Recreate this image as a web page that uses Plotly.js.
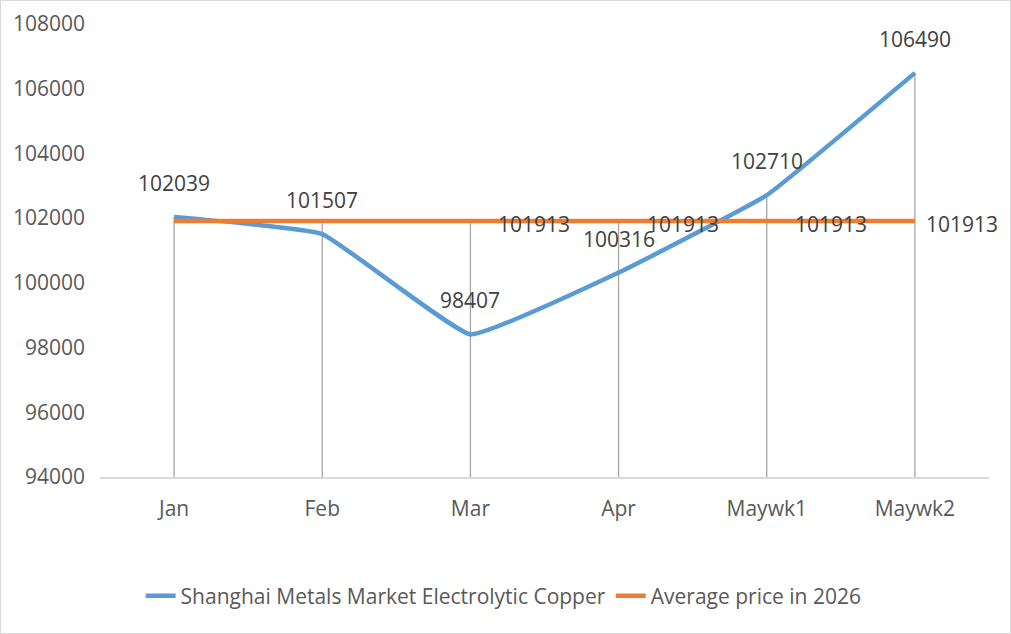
<!DOCTYPE html>
<html>
<head>
<meta charset="utf-8">
<script src="https://cdn.plot.ly/plotly-3.0.1.min.js"></script>
<style>
  html, body { margin: 0; padding: 0; background: #fff; }
  #chart { width: 1009px; height: 632px; border: 1px solid #d9d9d9; }
</style>
</head>
<body>
<div id="chart"></div>
<script>
// chart data
var months = ['Jan', 'Feb', 'Mar', 'Apr', 'Maywk1', 'Maywk2'];
var copperPrice = [102039, 101507, 98407, 100316, 102710, 106490];
var avgPrice = [101913, 101913, 101913, 101913, 101913, 101913];
var avgLabelShown = [false, false, true, true, true, true];

var yMin = 94000, yMax = 108000;
var labelFont = { family: 'Open Sans, Liberation Sans, sans-serif', size: 21, color: '#404040' };
var tickFont = { family: 'Open Sans, Liberation Sans, sans-serif', size: 21, color: '#595959' };

// drop lines from highest point down to the axis
var dropX = [], dropY = [];
months.forEach(function (m, i) {
    dropX.push(m, m, null);
    dropY.push(Math.max(copperPrice[i], avgPrice[i]), yMin, null);
});

var drops = {
    x: dropX, y: dropY,
    mode: 'lines', type: 'scatter',
    line: { color: '#a6a6a6', width: 1.3 },
    hoverinfo: 'skip', showlegend: false
};
var copper = {
    x: months, y: copperPrice,
    name: 'Shanghai Metals Market Electrolytic Copper',
    mode: 'lines', type: 'scatter',
    line: { color: '#5b9bd5', width: 4.5, shape: 'spline', smoothing: 0.3 }
};
var avg = {
    x: months, y: avgPrice,
    name: 'Average price in 2026',
    mode: 'lines', type: 'scatter',
    line: { color: '#ed7d31', width: 4.5 }
};

var annotations = [];
months.forEach(function (m, i) {
    annotations.push({
        x: m, y: copperPrice[i], text: String(copperPrice[i]),
        showarrow: false, yshift: 34, font: labelFont
    });
    if (avgLabelShown[i]) {
        // last label is pulled in so it stays inside the chart
        annotations.push({
            x: m, y: avgPrice[i], text: String(avgPrice[i]),
            showarrow: false, xanchor: 'left',
            xshift: i === months.length - 1 ? 9 : 26, yshift: -3, font: labelFont
        });
    }
});

var layout = {
    width: 1009, height: 632,
    margin: { l: 99, r: 21, t: 23, b: 156 },
    paper_bgcolor: '#fff', plot_bgcolor: '#fff',
    showlegend: true,
    legend: {
        orientation: 'h', x: 0.454, xanchor: 'center', y: -0.263, yanchor: 'middle',
        font: tickFont
    },
    xaxis: {
        type: 'category', range: [-0.5, 5.5],
        showgrid: false, zeroline: false,
        showline: true, linecolor: '#d9d9d9', linewidth: 1.5,
        ticks: '', ticklabelstandoff: 12, tickfont: tickFont
    },
    yaxis: {
        range: [yMin, yMax], dtick: 2000, tickformat: 'd',
        showgrid: false, zeroline: false, showline: false,
        ticks: '', ticklabelstandoff: 14, tickfont: tickFont
    },
    annotations: annotations
};

Plotly.newPlot('chart', [drops, copper, avg], layout, { displayModeBar: false, staticPlot: true });
</script>
</body>
</html>
